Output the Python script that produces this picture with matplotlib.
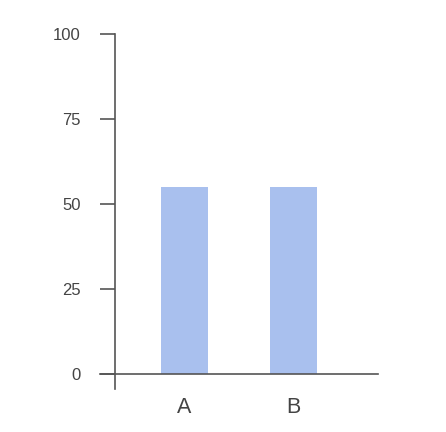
import matplotlib.pyplot as plt

categories = ['A', 'B']
values = [55, 55]
y_ticks = [0, 25, 50, 75, 100]

plt.rcParams['font.family'] = ['Liberation Sans', 'DejaVu Sans']

fig = plt.figure(figsize=(4.46, 4.32), dpi=100)
W, H = 446, 432
ax = fig.add_axes([115 / W, (H - 374) / H, (378 - 115) / W, (374 - 34) / H])

x = list(range(len(categories)))
ax.bar(x, values, width=0.43, color='#a9c0ee')
ax.set_xlim(-0.638, 1.775)
ax.set_ylim(0, 100)

for s in ax.spines.values():
    s.set_visible(False)

line_col = '#555555'
# axis lines drawn by hand so they cross at the origin
ax.plot([0, 0], [1, -15 / 340], transform=ax.transAxes, color=line_col, lw=1.2, clip_on=False)
ax.plot([-15 / 263, 1], [0, 0], transform=ax.transAxes, color=line_col, lw=1.2, clip_on=False)

ax.set_yticks(y_ticks)
ax.set_yticklabels([str(v) for v in y_ticks])
ax.tick_params(axis='y', length=10.8, width=1.2, color=line_col, labelcolor='#444444',
               labelsize=12, pad=14)
ax.set_xticks(x)
ax.set_xticklabels(categories)
ax.tick_params(axis='x', length=0, labelcolor='#444444', labelsize=15.5, pad=16.5)

fig.savefig('out.png', dpi=100)
